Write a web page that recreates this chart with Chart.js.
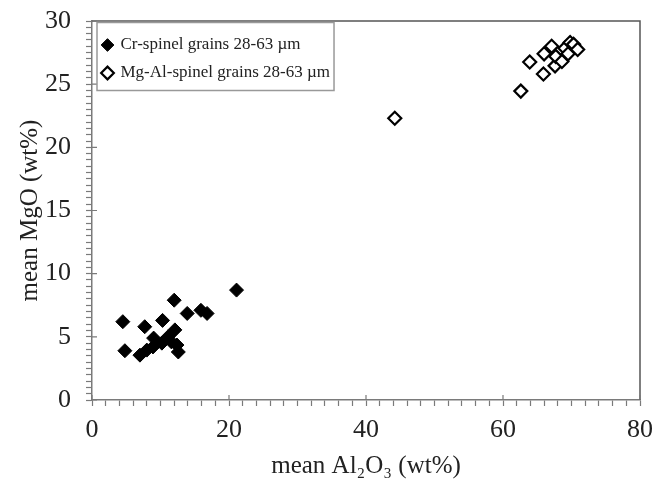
<!DOCTYPE html>
<html>
<head>
<meta charset="utf-8">
<script src="https://cdn.jsdelivr.net/npm/chart.js@4/dist/chart.umd.min.js"></script>
<style>
  html, body { margin: 0; padding: 0; background: #fff; }
  #wrap { width: 656px; height: 486px; }
</style>
</head>
<body>
<div id="wrap"><canvas id="c" width="656" height="486"></canvas></div>
<script>
// ---- data ----
const crLabel = 'Cr-spinel grains 28-63 µm';
const crAl2O3 = [4.5, 4.8, 7.0, 7.7, 8.0, 8.9, 9.0, 10.2, 10.3, 11.1, 11.6, 12.0, 12.1, 12.4, 12.6, 13.9, 15.9, 16.8, 21.1];
const crMgO   = [6.2, 3.9, 3.55, 5.8, 3.95, 4.2, 4.9, 4.5, 6.3, 5.0, 4.6, 7.9, 5.55, 4.35, 3.8, 6.85, 7.1, 6.85, 8.7];

const mgLabel = 'Mg-Al-spinel grains 28-63 µm';
const mgAl2O3 = [44.2, 62.6, 63.9, 65.9, 66.0, 67.1, 67.6, 67.7, 68.6, 69.05, 69.5, 69.8, 70.3, 70.9];
const mgMgO   = [22.3, 24.45, 26.75, 25.8, 27.4, 28.0, 26.45, 27.2, 26.8, 27.85, 27.4, 28.3, 28.15, 27.75];

const xTitle = 'mean Al₂O₃ (wt%)';
const yTitle = 'mean MgO (wt%)';
const xMajorTicks = [0, 20, 40, 60, 80];
const yMajorTicks = [0, 5, 10, 15, 20, 25, 30];

const toPoints = (xs, ys) => xs.map((x, i) => ({ x: x, y: ys[i] }));

const FONT = 'Liberation Serif, Times New Roman, serif';
const AXIS_COLOR = '#7a7a7a';
const TEXT_COLOR = '#222';

// frame (top/right), inner major tick marks, legend border
const framePlugin = {
  id: 'frame',
  afterDraw(chart) {
    const { ctx, chartArea: a, scales } = chart;
    ctx.save();
    ctx.strokeStyle = '#555';
    ctx.lineWidth = 1.5;
    ctx.beginPath();
    ctx.moveTo(a.left, a.top);
    ctx.lineTo(a.right, a.top);
    ctx.lineTo(a.right, a.bottom);
    ctx.stroke();

    ctx.strokeStyle = AXIS_COLOR;
    ctx.lineWidth = 1.2;
    ctx.beginPath();
    xMajorTicks.forEach(v => {
      const px = scales.x.getPixelForValue(v);
      ctx.moveTo(px, a.bottom);
      ctx.lineTo(px, a.bottom - 5);
    });
    yMajorTicks.forEach(v => {
      const py = scales.y.getPixelForValue(v);
      ctx.moveTo(a.left, py);
      ctx.lineTo(a.left + 5, py);
    });
    ctx.stroke();

    const lg = chart.legend;
    if (lg && lg.legendHitBoxes && lg.legendHitBoxes.length) {
      const hb = lg.legendHitBoxes;
      let l = Infinity, t = Infinity, r = -Infinity, b = -Infinity;
      hb.forEach(h => {
        l = Math.min(l, h.left); t = Math.min(t, h.top);
        r = Math.max(r, h.left + h.width); b = Math.max(b, h.top + h.height);
      });
      ctx.strokeStyle = '#999';
      ctx.lineWidth = 1.5;
      ctx.strokeRect(l - 6, t - 14, (r - l) + 10, (b - t) + 23);
    }
    ctx.restore();
  }
};

new Chart(document.getElementById('c'), {
  type: 'scatter',
  data: {
    datasets: [
      {
        label: crLabel,
        data: toPoints(crAl2O3, crMgO),
        pointStyle: 'rectRot',
        pointRadius: 7,
        pointBackgroundColor: '#000',
        pointBorderColor: '#000',
        pointBorderWidth: 1,
        backgroundColor: '#000',
        borderColor: '#000'
      },
      {
        label: mgLabel,
        data: toPoints(mgAl2O3, mgMgO),
        pointStyle: 'rectRot',
        pointRadius: 6.5,
        pointBackgroundColor: '#fff',
        pointBorderColor: '#000',
        pointBorderWidth: 2.2,
        backgroundColor: '#fff',
        borderColor: '#000'
      }
    ]
  },
  options: {
    responsive: false,
    animation: false,
    events: [],
    layout: { padding: { left: 0, right: 16, top: 21, bottom: 0 } },
    plugins: {
      tooltip: { enabled: false },
      legend: {
        position: 'chartArea',
        align: 'start',
        title: { display: true, text: '', font: { size: 1 }, padding: { top: 0, bottom: 24.3 } },
        labels: {
          usePointStyle: true,
          boxWidth: 9,
          boxHeight: 9,
          padding: 11,
          color: TEXT_COLOR,
          font: { family: FONT, size: 17 }
        }
      }
    },
    scales: {
      x: {
        type: 'linear',
        min: 0, max: 80,
        afterFit: s => { s.height = 86; s.paddingLeft = 0; s.paddingRight = 0; },
        border: { display: true, color: AXIS_COLOR, width: 1.5 },
        grid: { drawOnChartArea: false, drawTicks: true, tickLength: 6, tickColor: AXIS_COLOR, tickWidth: 1.2 },
        ticks: {
          stepSize: 2,
          autoSkip: false,
          maxRotation: 0,
          padding: 9,
          color: TEXT_COLOR,
          font: { family: FONT, size: 26 },
          callback: v => (xMajorTicks.includes(v) ? String(v) : '')
        },
        title: { display: true, text: xTitle, color: TEXT_COLOR, font: { family: FONT, size: 25 }, padding: { top: 0, bottom: 5 } }
      },
      y: {
        type: 'linear',
        min: 0, max: 30,
        afterFit: s => { s.width = 92; s.paddingTop = 0; s.paddingBottom = 0; },
        border: { display: true, color: AXIS_COLOR, width: 1.5 },
        grid: { drawOnChartArea: false, drawTicks: true, tickLength: 6, tickColor: AXIS_COLOR, tickWidth: 1.2 },
        ticks: {
          stepSize: 0.5,
          autoSkip: false,
          padding: 15,
          color: TEXT_COLOR,
          font: { family: FONT, size: 26 },
          callback: v => (yMajorTicks.includes(v) ? String(v) : '')
        },
        title: { display: true, text: yTitle, color: TEXT_COLOR, font: { family: FONT, size: 25 }, padding: { top: 15, bottom: 0 } }
      }
    }
  },
  plugins: [framePlugin]
});
</script>
</body>
</html>
